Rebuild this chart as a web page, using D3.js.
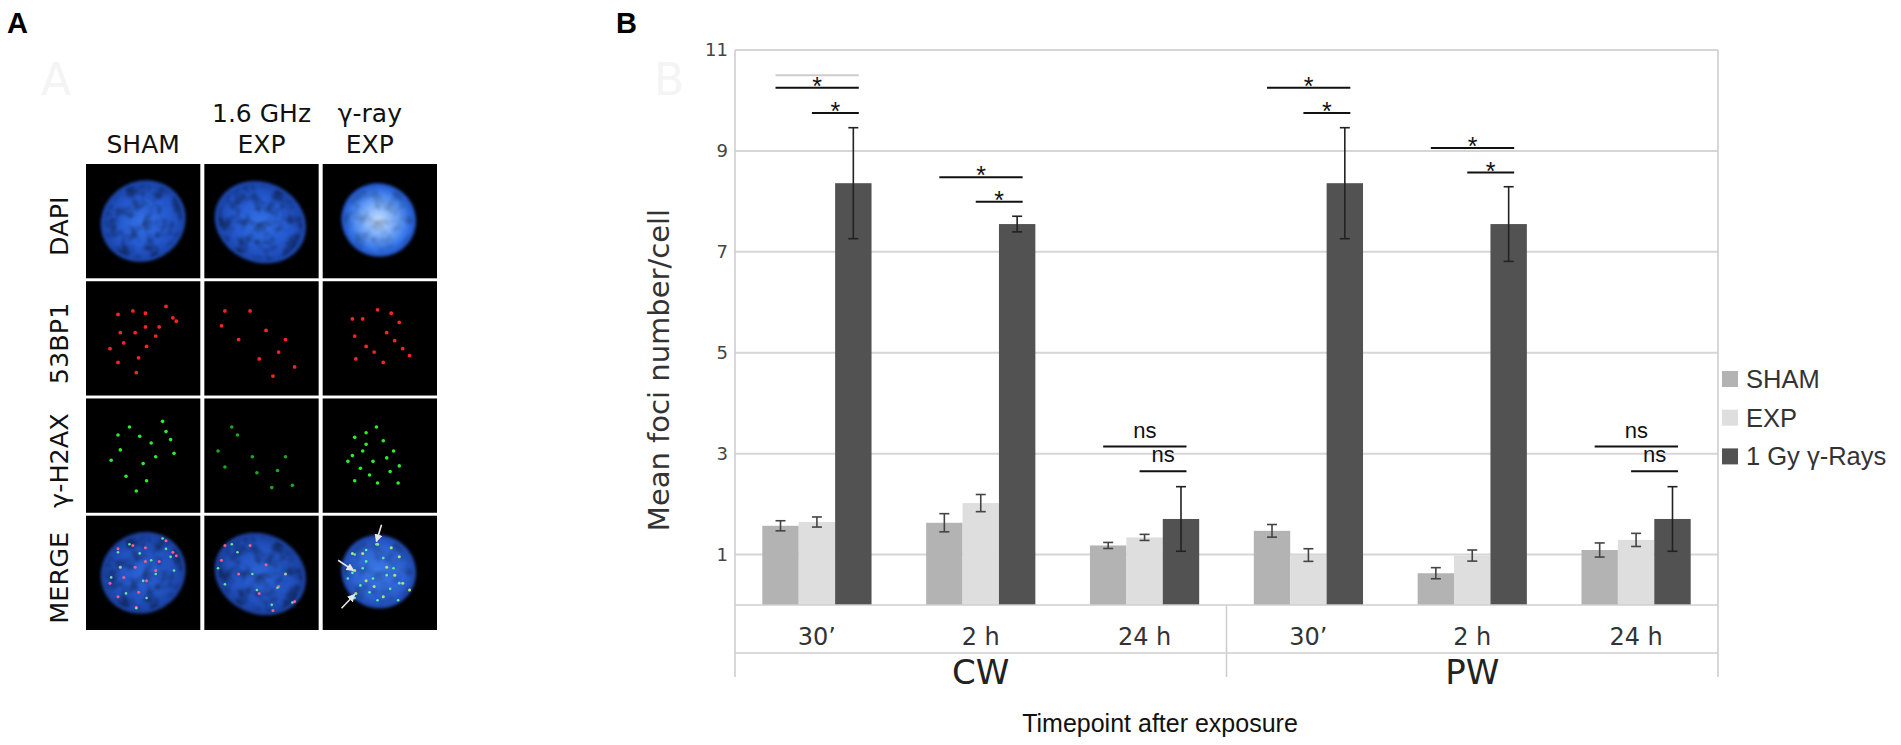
<!DOCTYPE html>
<html>
<head>
<meta charset="utf-8">
<script src="https://cdn.jsdelivr.net/npm/d3@7"></script>
<style>
  body { margin: 0; background: #fff; }
  svg { display: block; }
</style>
</head>
<body>
<script>
// ---- chart data (panel B) ----
var timepoints = ["30\u2019", "2 h", "24 h", "30\u2019", "2 h", "24 h"];
var waveforms = ["CW", "PW"];
var waveformCenter = [1, 4];
var seriesNames = ["SHAM", "EXP", "1 Gy \u03b3-Rays"];
var seriesColors = ["#b3b3b3", "#dedede", "#525252"];

var shamMean = [1.57, 1.63, 1.18, 1.47, 0.63, 1.09];
var shamErr = [0.10, 0.18, 0.06, 0.125, 0.11, 0.14];
var expMean = [1.645, 2.02, 1.34, 0.99, 0.98, 1.29];
var expErr = [0.10, 0.17, 0.06, 0.125, 0.11, 0.13];
var gammaMean = [8.36, 7.55, 1.705, 8.36, 7.55, 1.705];
var gammaErr = [1.10, 0.155, 0.64, 1.10, 0.74, 0.64];

var yTicks = [1, 3, 5, 7, 9, 11];

// [timepoint index, first series compared with gamma, bracket level, label]
var sigMarks = [
  [0, 0, 10.25, "*"], [0, 1, 9.75, "*"],
  [1, 0, 8.48, "*"], [1, 1, 7.99, "*"],
  [2, 0, 3.14, "ns"], [2, 1, 2.65, "ns"],
  [3, 0, 10.25, "*"], [3, 1, 9.75, "*"],
  [4, 0, 9.06, "*"], [4, 1, 8.57, "*"],
  [5, 0, 3.14, "ns"], [5, 1, 2.65, "ns"]
];
var faintMarks = [[0, 0, 10.5]];

// ---- picture content (panel A) ----
var columnTitles = [["SHAM"], ["1.6 GHz", "EXP"], ["\u03b3-ray", "EXP"]];
var rowTitles = ["DAPI", "53BP1", "\u03b3-H2AX", "MERGE"];
// nucleus per column: centre fx, fy, radius fx, fy (fractions of a cell), tilt
var nucleusShapes = [[0.50, 0.50, 0.38, 0.35, -30], [0.49, 0.51, 0.41, 0.35, 25], [0.49, 0.49, 0.33, 0.32, 30]];
var foci53 = [
  [[.28,.29],[.41,.26],[.52,.28],[.76,.32],[.30,.45],[.43,.45],[.52,.40],[.64,.40],[.79,.35],[.33,.54],[.46,.67],[.44,.80],[.21,.59],[.61,.48],[.70,.22],[.28,.71],[.53,.57]],
  [[.15,.39],[.40,.26],[.65,.62],[.79,.75],[.60,.83],[.18,.26],[.48,.68],[.30,.51],[.71,.51],[.54,.43]],
  [[.48,.25],[.28,.48],[.35,.33],[.56,.45],[.63,.52],[.45,.62],[.29,.68],[.76,.65],[.67,.36],[.38,.57],[.53,.71],[.60,.28],[.26,.33],[.70,.59]]
];
var fociH2ax = [
  [[.28,.32],[.67,.20],[.74,.36],[.30,.45],[.50,.57],[.22,.54],[.44,.81],[.57,.39],[.70,.29],[.35,.68],[.61,.51],[.77,.48],[.47,.33],[.38,.25],[.53,.72]],
  [[.29,.32],[.12,.46],[.64,.63],[.46,.65],[.77,.76],[.59,.78],[.24,.25],[.42,.51],[.18,.60],[.71,.51]],
  [[.47,.25],[.38,.30],[.28,.34],[.53,.37],[.35,.46],[.26,.50],[.62,.46],[.44,.55],[.33,.61],[.59,.64],[.48,.74],[.66,.74],[.28,.72],[.41,.67],[.67,.59],[.22,.55],[.56,.52],[.38,.40]]
];
var mergeArrows = [[0.515, 0.08, 0.47, 0.225], [0.135, 0.39, 0.27, 0.48], [0.165, 0.81, 0.28, 0.69]];

var W = 1901;
var H = 745;

var svg = d3.select("body").append("svg")
  .attr("width", W)
  .attr("height", H);

var defs = svg.append("defs");

defs.append("filter").attr("id", "soft")
  .attr("x", "-30%").attr("y", "-30%").attr("width", "160%").attr("height", "160%")
  .append("feGaussianBlur").attr("stdDeviation", 1.6);
defs.append("filter").attr("id", "glow")
  .append("feGaussianBlur").attr("stdDeviation", 0.6);

// mottled chromatin texture, clipped to the shape it is applied to
var mottle = defs.append("filter").attr("id", "mottle")
  .attr("x", "-10%").attr("y", "-10%").attr("width", "120%").attr("height", "120%");
mottle.append("feTurbulence").attr("type", "fractalNoise")
  .attr("baseFrequency", 0.09).attr("numOctaves", 2).attr("seed", 4).attr("result", "noise");
mottle.append("feColorMatrix").attr("in", "noise").attr("type", "matrix")
  .attr("values", "0 0 0 0 0  0 0 0 0 0  0 0 0 0 0  3 0 0 0 -1.25").attr("result", "spots");
mottle.append("feComposite").attr("in", "spots").attr("in2", "SourceGraphic")
  .attr("operator", "in").attr("result", "clipped");
mottle.append("feGaussianBlur").attr("in", "clipped").attr("stdDeviation", 1.2);

function radial(id, stops) {
  var g = defs.append("radialGradient").attr("id", id);
  stops.forEach(function(s) {
    g.append("stop").attr("offset", s[0]).attr("stop-color", s[1]);
  });
}
radial("nucDim", [["0%", "#3370e6"], ["65%", "#2457cc"], ["100%", "#1a43a6"]]);
radial("nucBright", [["0%", "#c2dcff"], ["40%", "#7eb0fb"], ["80%", "#3575e8"], ["100%", "#2050c4"]]);
radial("nucMerge", [["0%", "#2c63d6"], ["70%", "#2150bd"], ["100%", "#1a3f9c"]]);
radial("nucMerge3", [["0%", "#3a7ae8"], ["70%", "#2c62d2"], ["100%", "#1f48b0"]]);

defs.append("marker").attr("id", "arrowHead")
  .attr("viewBox", "0 0 8 8")
  .attr("refX", 7).attr("refY", 4)
  .attr("markerWidth", 8).attr("markerHeight", 8)
  .attr("markerUnits", "userSpaceOnUse")
  .attr("orient", "auto")
  .append("path").attr("d", "M0,0 L8,4 L0,8 z").attr("fill", "#e6e6e6");

// ---- panel labels ----
svg.append("text").attr("x", 7).attr("y", 33)
  .attr("font-family", "Liberation Sans").attr("font-weight", "bold")
  .attr("font-size", 29).text("A");
svg.append("text").attr("x", 616).attr("y", 33)
  .attr("font-family", "Liberation Sans").attr("font-weight", "bold")
  .attr("font-size", 29).text("B");
svg.append("text").attr("x", 41).attr("y", 95)
  .attr("font-family", "DejaVu Sans").attr("font-size", 44)
  .attr("fill", "#f4f4f4").text("A");
svg.append("text").attr("x", 654).attr("y", 95)
  .attr("font-family", "DejaVu Sans").attr("font-size", 44)
  .attr("fill", "#f4f4f4").text("B");

// ---- panel A: micrograph grid ----
function drawPanelA() {
  var col = d3.scaleBand().domain(d3.range(3)).range([86, 437]).paddingInner(0.034);
  var row = d3.scaleBand().domain(d3.range(4)).range([164, 630]).paddingInner(0.025);
  var cw = col.bandwidth();
  var ch = row.bandwidth();
  var panel = svg.append("g").attr("id", "panel-a");

  var heads = panel.append("g").attr("font-family", "DejaVu Sans")
    .attr("font-size", 25).attr("fill", "#111").attr("text-anchor", "middle");
  columnTitles.forEach(function(lines, c) {
    lines.forEach(function(line, k) {
      heads.append("text")
        .attr("x", col(c) + cw / 2 - (c === 2 ? 10 : 0))
        .attr("y", 153 - (lines.length - 1 - k) * 31)
        .text(line);
    });
  });

  rowTitles.forEach(function(t, r) {
    heads.append("text")
      .attr("transform", "translate(68," + (row(r) + ch / 2 + 5) + ") rotate(-90)")
      .attr("font-size", 25.5)
      .text(t);
  });

  d3.range(4).forEach(function(r) {
    d3.range(3).forEach(function(c) {
      var cell = panel.append("g")
        .attr("transform", "translate(" + col(c) + "," + row(r) + ")");
      cell.append("rect").attr("width", cw).attr("height", ch).attr("fill", "#000");

      var shape = nucleusShapes[c];
      if (r === 0 || r === 3) {
        var fill = r === 0 ? (c === 2 ? "url(#nucBright)" : "url(#nucDim)")
                           : (c === 2 ? "url(#nucMerge3)" : "url(#nucMerge)");
        var nuc = cell.append("g")
          .attr("transform", "translate(" + shape[0] * cw + "," + shape[1] * ch + ") rotate(" + shape[4] + ")");
        nuc.append("ellipse")
          .attr("rx", shape[2] * cw)
          .attr("ry", shape[3] * ch)
          .attr("fill", fill)
          .attr("filter", "url(#soft)");
        nuc.append("ellipse")
          .attr("rx", shape[2] * cw * 0.92)
          .attr("ry", shape[3] * ch * 0.92)
          .attr("fill", "#000")
          .attr("opacity", c === 2 ? 0.22 : 0.38)
          .attr("filter", "url(#mottle)");
      }

      function dots(list, color, rad) {
        cell.selectAll(null).data(list).enter().append("circle")
          .attr("cx", function(d) { return d[0] * cw; })
          .attr("cy", function(d) { return d[1] * ch; })
          .attr("r", rad)
          .attr("fill", color)
          .attr("filter", "url(#glow)");
      }

      if (r === 1) dots(foci53[c], "#ff2222", 1.9);
      if (r === 2) dots(fociH2ax[c], c === 1 ? "#1fa81f" : "#2cf02c", 1.8);
      if (r === 3) {
        dots(foci53[c], c === 2 ? "#b8e070" : "#ff5a8a", 1.5);
        dots(fociH2ax[c], c === 2 ? "#5cf0b0" : "#6ee0a0", 1.3);
        if (c === 2) {
          cell.selectAll(null).data(mergeArrows).enter().append("line")
            .attr("x1", function(d) { return d[0] * cw; })
            .attr("y1", function(d) { return d[1] * ch; })
            .attr("x2", function(d) { return d[2] * cw; })
            .attr("y2", function(d) { return d[3] * ch; })
            .attr("stroke", "#e6e6e6")
            .attr("stroke-width", 1.6)
            .attr("marker-end", "url(#arrowHead)");
        }
      }
    });
  });
}

// ---- panel B: grouped bar chart ----
function drawPanelB() {
  var left = 735;
  var right = 1718;
  var x = d3.scaleBand().domain(d3.range(timepoints.length)).range([left, right]);
  var xs = d3.scaleBand().domain(d3.range(seriesNames.length))
    .range([0, x.bandwidth()]).paddingOuter(0.75);
  var y = d3.scaleLinear().domain([0, 11]).range([605, 50]);
  var base = y(0);
  var chart = svg.append("g").attr("id", "panel-b");
  var lineColor = "#cfcfcf";

  chart.append("g").selectAll("line").data(yTicks).enter().append("line")
    .attr("x1", left).attr("x2", right)
    .attr("y1", y).attr("y2", y)
    .attr("stroke", "#d6d6d6").attr("stroke-width", 2);

  var means = [shamMean, expMean, gammaMean];
  var errs = [shamErr, expErr, gammaErr];
  var bars = [];
  timepoints.forEach(function(t, i) {
    means.forEach(function(m, s) {
      bars.push({ cat: i, s: s, v: m[i], e: errs[s][i] });
    });
  });

  function barX(d) { return x(d.cat) + xs(d.s); }
  function barMid(d) { return barX(d) + xs.bandwidth() / 2; }

  chart.append("g").selectAll("rect").data(bars).enter().append("rect")
    .attr("x", barX)
    .attr("y", function(d) { return y(d.v); })
    .attr("width", xs.bandwidth())
    .attr("height", function(d) { return base - y(d.v); })
    .attr("fill", function(d) { return seriesColors[d.s]; });

  var eb = chart.append("g").attr("stroke-width", 1.6);
  eb.selectAll(".stem").data(bars).enter().append("line")
    .attr("x1", barMid).attr("x2", barMid)
    .attr("y1", function(d) { return y(d.v + d.e); })
    .attr("y2", function(d) { return y(d.v - d.e); })
    .attr("stroke", function(d) { return d.s === 2 ? "#222" : "#444"; });
  [1, -1].forEach(function(sign) {
    eb.selectAll(null).data(bars).enter().append("line")
      .attr("x1", function(d) { return barMid(d) - 5; })
      .attr("x2", function(d) { return barMid(d) + 5; })
      .attr("y1", function(d) { return y(d.v + sign * d.e); })
      .attr("y2", function(d) { return y(d.v + sign * d.e); })
      .attr("stroke", function(d) { return d.s === 2 ? "#222" : "#444"; });
  });

  // frame and category table
  var frame = chart.append("g").attr("stroke", lineColor).attr("stroke-width", 1.6);
  frame.append("line").attr("x1", left).attr("x2", left).attr("y1", y(11)).attr("y2", 677);
  frame.append("line").attr("x1", right).attr("x2", right).attr("y1", y(11)).attr("y2", 677);
  frame.append("line").attr("x1", x(3)).attr("x2", x(3)).attr("y1", base).attr("y2", 677);
  frame.append("line").attr("x1", left).attr("x2", right).attr("y1", base).attr("y2", base);
  frame.append("line").attr("x1", left).attr("x2", right).attr("y1", 653).attr("y2", 653);

  var yAxis = d3.axisLeft(y).tickValues(yTicks).tickSize(0).tickPadding(7);
  var axisG = chart.append("g").attr("transform", "translate(" + left + ",0)").call(yAxis);
  axisG.select(".domain").remove();
  axisG.selectAll("text")
    .attr("font-family", "DejaVu Sans").attr("font-size", 18).attr("fill", "#444");

  chart.append("text")
    .attr("transform", "translate(669,370) rotate(-90)")
    .attr("text-anchor", "middle")
    .attr("font-family", "DejaVu Sans").attr("font-size", 29).attr("fill", "#333")
    .text("Mean foci number/cell");

  chart.append("g").selectAll("text").data(timepoints).enter().append("text")
    .attr("x", function(d, i) { return x(i) + x.bandwidth() / 2; })
    .attr("y", 645)
    .attr("text-anchor", "middle")
    .attr("font-family", "DejaVu Sans").attr("font-size", 24).attr("fill", "#333")
    .text(function(d) { return d; });

  chart.append("g").selectAll("text").data(waveforms).enter().append("text")
    .attr("x", function(d, i) { return x(waveformCenter[i]) + x.bandwidth() / 2; })
    .attr("y", 684)
    .attr("text-anchor", "middle")
    .attr("font-family", "DejaVu Sans").attr("font-size", 34).attr("fill", "#222")
    .text(function(d) { return d; });

  chart.append("text")
    .attr("x", 1160).attr("y", 732)
    .attr("text-anchor", "middle")
    .attr("font-family", "Liberation Sans").attr("font-size", 25).attr("fill", "#111")
    .text("Timepoint after exposure");

  // significance brackets
  function bx1(m) { return x(m[0]) + xs(m[1]) + xs.bandwidth() / 2 - 5; }
  function bx2(m) { return x(m[0]) + xs(2) + xs.bandwidth() / 2 + 5.5; }

  chart.append("g").selectAll("line").data(faintMarks).enter().append("line")
    .attr("x1", bx1).attr("x2", bx2)
    .attr("y1", function(m) { return y(m[2]); })
    .attr("y2", function(m) { return y(m[2]); })
    .attr("stroke", "#cccccc").attr("stroke-width", 2);

  var sig = chart.append("g");
  sig.selectAll("line").data(sigMarks).enter().append("line")
    .attr("x1", bx1).attr("x2", bx2)
    .attr("y1", function(m) { return y(m[2]); })
    .attr("y2", function(m) { return y(m[2]); })
    .attr("stroke", "#111").attr("stroke-width", 2);
  sig.selectAll("text").data(sigMarks).enter().append("text")
    .attr("x", function(m) { return (bx1(m) + bx2(m)) / 2; })
    .attr("y", function(m) { return y(m[2]) + (m[3] === "*" ? 7 : -9); })
    .attr("text-anchor", "middle")
    .attr("font-family", "Liberation Sans")
    .attr("font-size", function(m) { return m[3] === "*" ? 25 : 22; })
    .attr("fill", "#111")
    .text(function(m) { return m[3]; });

  // legend
  var legend = chart.append("g").attr("transform", "translate(1722,371)");
  var item = legend.selectAll("g").data(seriesNames).enter().append("g")
    .attr("transform", function(d, i) { return "translate(0," + i * 38.7 + ")"; });
  item.append("rect").attr("width", 16).attr("height", 16)
    .attr("fill", function(d, i) { return seriesColors[i]; });
  item.append("text").attr("x", 24).attr("y", 17)
    .attr("font-family", "Liberation Sans").attr("font-size", 25.5).attr("fill", "#333")
    .text(function(d) { return d; });
}

drawPanelA();
drawPanelB();
</script>
</body>
</html>
